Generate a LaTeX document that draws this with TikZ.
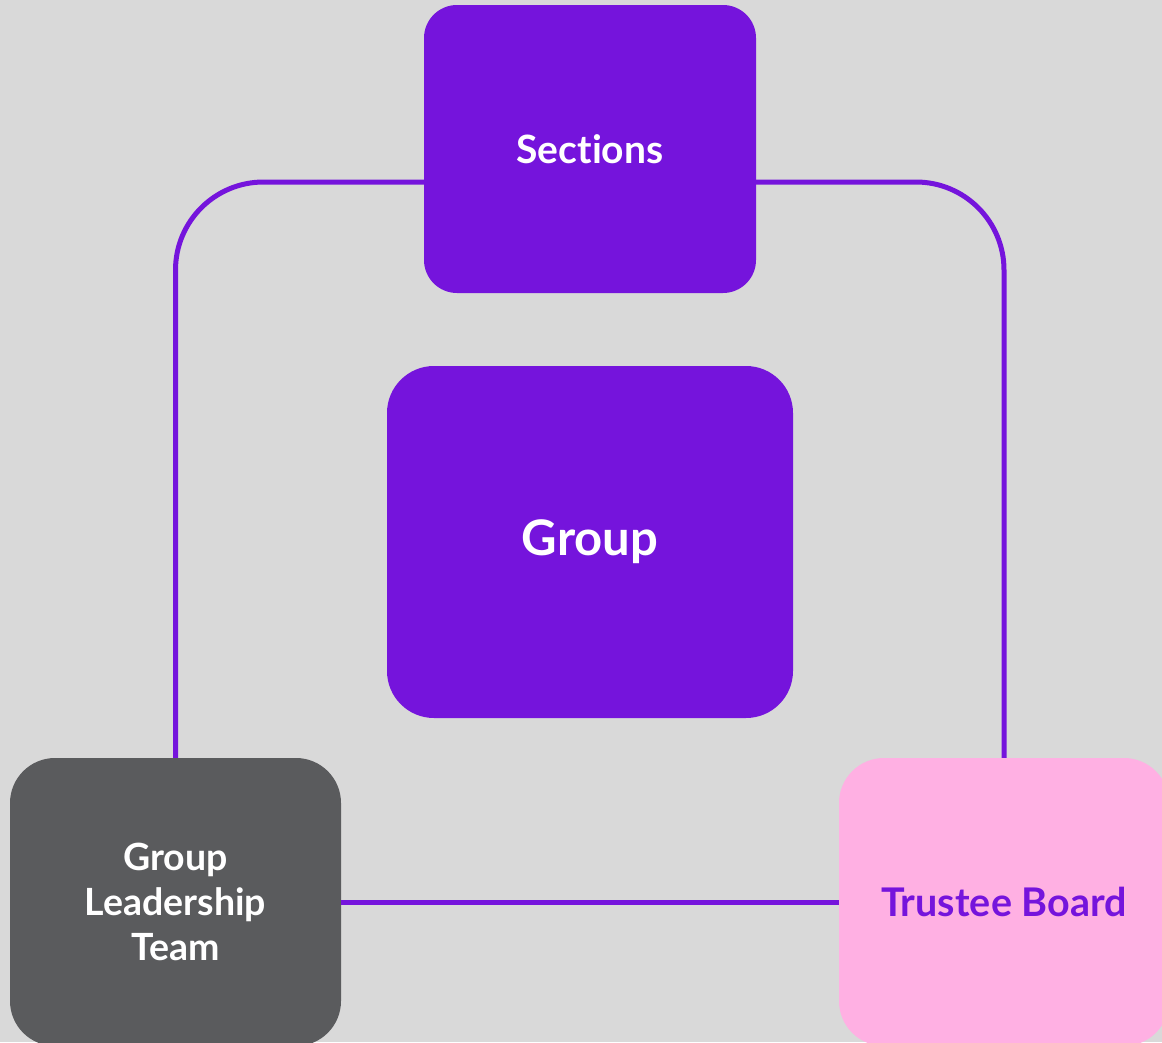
\documentclass[tikz,border=0pt]{standalone}
\usepackage{fontspec}
\setmainfont{Lato}[Ligatures={NoCommon}]
\definecolor{scoutpurple}{HTML}{7514DC}
\definecolor{bggray}{HTML}{D9D9D9}
\definecolor{darkgray}{HTML}{5A5B5D}
\definecolor{softpink}{HTML}{FFB0E3}
\tikzset{
	box/.style={rectangle, draw=none, align=center, font=\bfseries, text=white},
	link/.style={draw=scoutpurple, line width=5pt}
}
\begin{document}
\begin{tikzpicture}[x=1pt,y=-1pt]
	\useasboundingbox (0,0) rectangle (1162,1042);
	\clip (0,0) rectangle (1162,1042);
	\fill[bggray] (0,0) rectangle (1162,1042);
	\node[box, fill=scoutpurple, minimum width=332pt, minimum height=288pt, rounded corners=33pt,
		font=\bfseries\fontsize{39}{45}\selectfont] (sections) at (590,149) {Sections};
	\node[box, fill=scoutpurple, minimum width=406pt, minimum height=352pt, rounded corners=47pt,
		font=\bfseries\fontsize{49}{55}\selectfont] (group) at (590,542) {Group};
	\node[box, fill=darkgray, minimum width=331pt, minimum height=288pt, rounded corners=45pt,
		font=\bfseries\fontsize{37.5}{45}\selectfont] (glt) at (175.5,902) {Group\\Leadership\\Team};
	\node[box, fill=softpink, text=scoutpurple, minimum width=330pt, minimum height=288pt, rounded corners=45pt,
		font=\bfseries\fontsize{39.5}{45}\selectfont] (trustee) at (1004,902) {Trustee Board};
	\draw[link, rounded corners=88pt] ([yshift=-33pt]sections.west) -| (glt.north);
	\draw[link, rounded corners=88pt] ([yshift=-33pt]sections.east) -| (trustee.north);
	\draw[link] (glt.east) -- (trustee.west);
\end{tikzpicture}
\end{document}
